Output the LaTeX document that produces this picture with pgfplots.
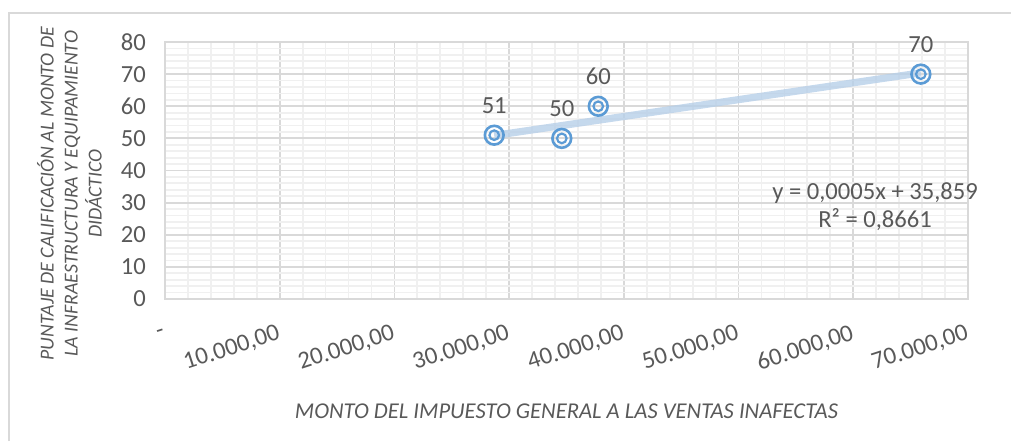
\documentclass[border=0pt]{standalone}
\usepackage{fontspec}
\setmainfont{Carlito}
\usepackage{pgfplots}
\pgfplotsset{compat=1.18}

\definecolor{txt}{RGB}{89,89,89}
\definecolor{gmaj}{RGB}{217,217,217}
\definecolor{gmin}{RGB}{240,240,240}
\definecolor{mk}{RGB}{91,155,213}
\definecolor{trend}{RGB}{183,207,232}

\begin{document}
\begin{tikzpicture}
\useasboundingbox (-82.5pt,-71pt) rectangle (423pt,149.5pt);
% outer chart frame (left and top edges visible)
\draw[gmaj, line width=1pt] (-78pt,-71pt) -- (-78pt,143pt) -- (423pt,143pt);
\begin{axis}[
  at={(0,0)}, anchor=south west,
  scale only axis,
  width=401.5pt, height=128.5pt,
  xmin=0, xmax=70000, ymin=0, ymax=80,
  xtick={0,10000,...,70000},
  xticklabels={-,{10.000,00},{20.000,00},{30.000,00},{40.000,00},{50.000,00},{60.000,00},{70.000,00}},
  scaled x ticks=false,
  ytick={0,10,...,80},
  minor x tick num=4, minor y tick num=4,
  grid=both,
  major grid style={gmaj, line width=0.9pt},
  minor grid style={gmin, line width=0.9pt},
  axis line style={gmaj, line width=0.9pt},
  major tick length=0pt, minor tick length=0pt,
  tick label style={font=\fontsize{12.3}{14}\selectfont, text=txt},
  /pgf/number format/assume math mode=true,
  xticklabel style={rotate=18, anchor=east, xshift=-2pt, yshift=-16pt},
  yticklabel style={xshift=-6pt},
  xlabel={\itshape MONTO DEL IMPUESTO GENERAL A LAS VENTAS INAFECTAS},
  xlabel style={font=\fontsize{11.3}{12}\selectfont, text=txt, at={(0.5,0)}, anchor=center, yshift=-56pt},
  ylabel={\itshape PUNTAJE DE CALIFICACIÓN AL MONTO DE\\\itshape LA INFRAESTRUCTURA Y EQUIPAMIENTO\\\itshape DIDÁCTICO},
  ylabel style={font=\fontsize{9.9}{12}\selectfont, text=txt, align=center, at={(-0.119,0.41)}, anchor=center},
  clip=false,
]
% linear trend line (Excel: y = 0,0005x + 35,859)
\addplot[trend, line width=3.6pt, opacity=0.8, no marks] coordinates {
  (28700, 50.9) (65890, 70.4)
};
\addplot[only marks, mark=o, mark size=4.7pt, mark options={mk, line width=1.3pt},
  nodes near coords, point meta=explicit symbolic,
  nodes near coords style={font=\fontsize{12.3}{14}\selectfont, text=txt, anchor=south, yshift=7pt}]
  coordinates {
  (28700, 51) [51]
  (34590, 50) [50]
  (37770, 60) [60]
  (65890, 70) [70]
};
\addplot[only marks, mark=o, mark size=2.4pt, mark options={mk, line width=1.1pt}] coordinates {
  (28700, 51) (34590, 50) (37770, 60) (65890, 70)
};
\node[font=\fontsize{12.3}{14}\selectfont, text=txt, align=center] at (axis cs:61900,28.8)
  {y = 0,0005x + 35,859\\R² = 0,8661};
\end{axis}
\end{tikzpicture}
\end{document}
